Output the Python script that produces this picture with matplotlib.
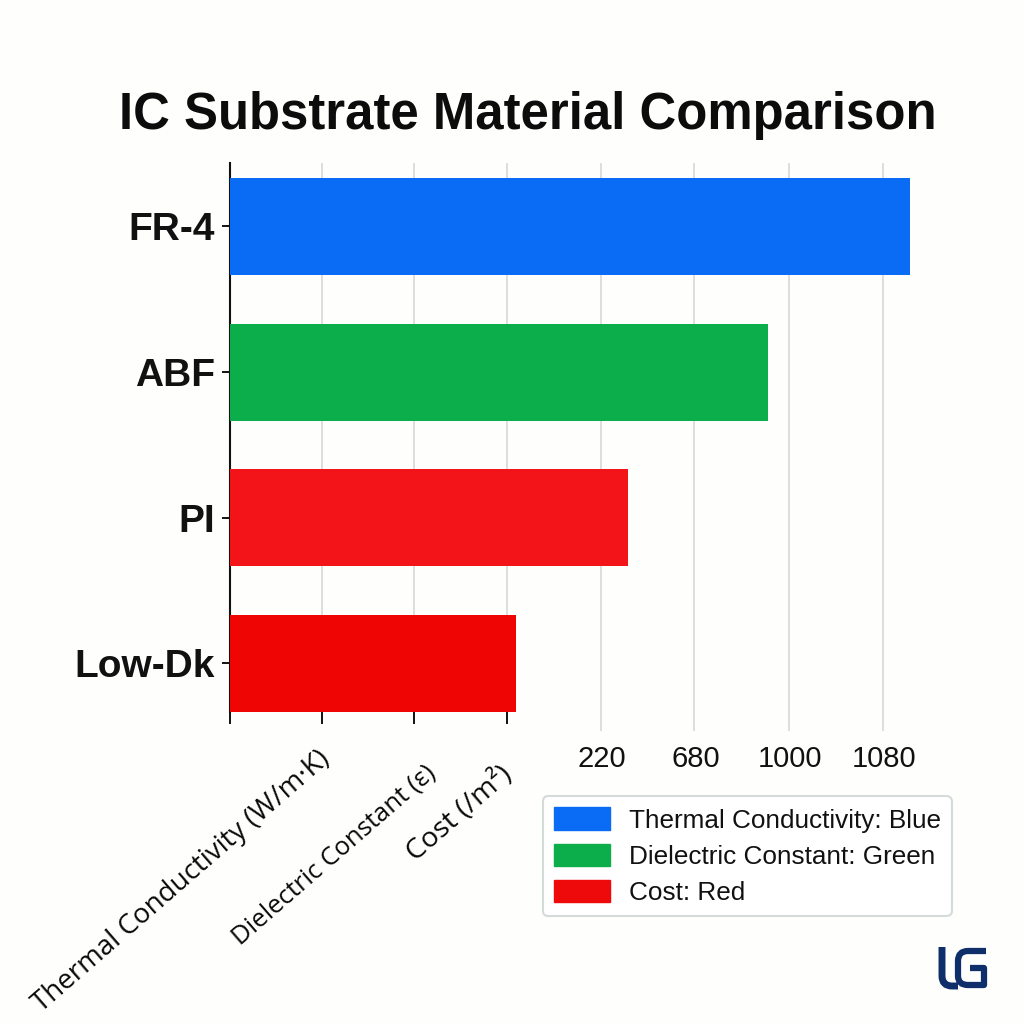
import matplotlib
matplotlib.use("Agg")
from matplotlib import pyplot as plt
from matplotlib.patches import Patch, PathPatch
from matplotlib.path import Path

materials = ["FR-4", "ABF", "PI", "Low-Dk"]
bar_values = [7.25, 5.74, 4.24, 3.05]
bar_colors = ["#0A6CF5", "#0BAE4A", "#F21418", "#F00505"]
tick_pos = [0, 0.98, 1.96, 2.95, 3.95, 4.95, 5.96, 6.96]
rotated_labels = ["", "Thermal Conductivity (W/m·K)", "Dielectric Constant (ε)", "Cost (/m²)"]
rotated_sizes = [20, 20, 18.5, 20.5]
plain_labels = ["220", "680", "1000", "1080"]
legend_labels = ["Thermal Conductivity: Blue", "Dielectric Constant: Green", "Cost: Red"]
legend_colors = ["#0A6CF5", "#0BAE4A", "#EE0A0A"]

W = 1024.0
plt.rcParams["font.family"] = ["Liberation Sans", "DejaVu Sans"]

fig = plt.figure(figsize=(10.24, 10.24), dpi=100, facecolor="#FEFEFD")
ax = fig.add_axes([230 / W, 1 - 712 / W, (940 - 230) / W, (712 - 163) / W])
ax.set_facecolor("none")

y = range(len(materials))
ax.barh(y, bar_values, height=0.666, color=bar_colors, zorder=3)
ax.set_yticks(list(y), materials, fontsize=28, fontweight="bold", color="#111111")
ax.set_ylim(3.333, -0.435)
ax.set_xlim(0, (940 - 230) / 93.8)

for s in ["top", "right", "bottom"]:
    ax.spines[s].set_visible(False)
ax.spines["left"].set_linewidth(1.5)
ax.spines["left"].set_color("#111111")
ax.tick_params(axis="y", length=6, width=1.3, pad=5)

ax.set_xticks(tick_pos)
ax.set_xticklabels([""] * len(tick_pos))
ax.grid(axis="x", color="#D5DADA", linewidth=1.2, zorder=0)
ax.set_axisbelow(True)

# first four ticks are black, the rest are longer and grey
for i, t in enumerate(ax.xaxis.get_major_ticks()):
    if i < 4:
        t.tick1line.set_markersize(8.6)
        t.tick1line.set_markeredgewidth(1.4)
        t.tick1line.set_markeredgecolor("#111111")
    else:
        t.tick1line.set_markersize(14)
        t.tick1line.set_markeredgewidth(1.2)
        t.tick1line.set_markeredgecolor("#D5DADA")
ax.xaxis.get_major_ticks()[0].gridline.set_visible(False)

trans = ax.get_xaxis_transform()
off_x = [0, -5, 10, -7]
off_y = [0, -24, -35, -35]
for i, lab in enumerate(rotated_labels):
    if lab:
        ax.annotate(lab, xy=(tick_pos[i], 0), xycoords=trans, xytext=(off_x[i] * 0.72, off_y[i]),
                    textcoords="offset points", rotation=41, rotation_mode="anchor",
                    ha="right", va="top", fontsize=rotated_sizes[i], family="Open Sans", color="#0A0A0A")
for i, lab in enumerate(plain_labels):
    ax.annotate(lab, xy=(tick_pos[i + 4], 0), xycoords=trans, xytext=(1, -24),
                textcoords="offset points", ha="center", va="top", fontsize=21, color="#111111")

fig.text(528 / W, 1 - 116 / W, "IC Substrate Material Comparison", ha="center", va="center",
         fontsize=36.6, fontweight="bold", color="#0C0C0C")

handles = [Patch(color=c) for c in legend_colors]
leg = fig.legend(handles, legend_labels, loc="lower left",
                 bbox_to_anchor=(543 / W, 1 - 916 / W), fontsize=18.8, frameon=True,
                 handlelength=2.14, handleheight=0.95, handletextpad=0.72, labelspacing=0.42,
                 borderpad=0.42, borderaxespad=0, edgecolor="#D5DADA", facecolor="white", framealpha=1,
                 labelcolor="#111111")
leg.get_frame().set_linewidth(1.5)


def logo_stroke(points, codes, lw):
    # logo drawn in pixel coordinates, y counted from the top
    verts = [(px / W, 1 - py / W) for px, py in points]
    fig.add_artist(PathPatch(Path(verts, codes), fill=False, edgecolor="#0F2F6B", lw=lw,
                             capstyle="butt", joinstyle="round", transform=fig.transFigure))


M, L, Q = Path.MOVETO, Path.LINETO, Path.CURVE3
logo_stroke([(942, 947), (942, 976), (942, 986), (952, 986), (958, 986)], [M, L, Q, Q, L], 5)
logo_stroke([(986, 951), (968, 951), (958, 951), (958, 961), (958, 976), (958, 985), (968, 985),
             (984, 985), (984, 968), (970, 968)],
            [M, L, Q, Q, L, Q, Q, L, L, L], 4.5)

fig.savefig("out.png", dpi=100, facecolor=fig.get_facecolor())
